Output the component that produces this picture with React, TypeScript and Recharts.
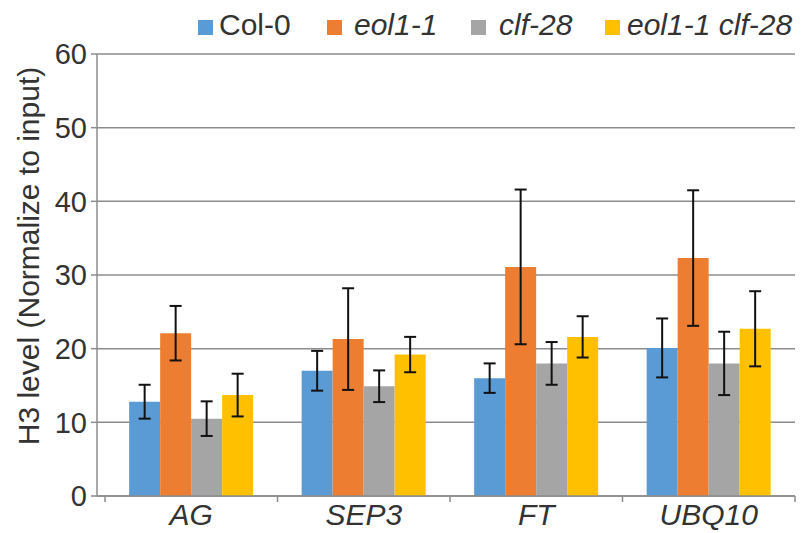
import { Bar, BarChart, CartesianGrid, ErrorBar, XAxis, YAxis } from 'recharts';

const genes = ['AG', 'SEP3', 'FT', 'UBQ10'];

const col0 = [12.8, 17.0, 16.0, 20.1];
const col0Err = [2.3, 2.7, 2.0, 4.0];
const eol1 = [22.1, 21.3, 31.1, 32.3];
const eol1Err = [3.7, 6.9, 10.5, 9.2];
const clf28 = [10.5, 14.9, 18.0, 18.0];
const clf28Err = [2.35, 2.15, 2.9, 4.3];
const eolClf = [13.7, 19.2, 21.6, 22.7];
const eolClfErr = [2.9, 2.4, 2.8, 5.1];

const yTicks = [0, 10, 20, 30, 40, 50, 60];

const series = [
  { key: 'col0', name: 'Col-0', color: '#5B9BD5', italic: false },
  { key: 'eol1', name: 'eol1-1', color: '#ED7D31', italic: true },
  { key: 'clf28', name: 'clf-28', color: '#A5A5A5', italic: true },
  { key: 'eolClf', name: 'eol1-1 clf-28', color: '#FFC000', italic: true },
];

const data = genes.map((gene, i) => ({
  gene,
  col0: col0[i],
  col0Err: col0Err[i],
  eol1: eol1[i],
  eol1Err: eol1Err[i],
  clf28: clf28[i],
  clf28Err: clf28Err[i],
  eolClf: eolClf[i],
  eolClfErr: eolClfErr[i],
}));

const W = 811;
const H = 533;
const LEFT = 97;
const RIGHT = 16;
const PAD_LEFT = 8;
const band = (W - LEFT - RIGHT - PAD_LEFT) / genes.length;
const font = '"Liberation Sans", Arial, sans-serif';
const axisColor = '#8c8c8c';
const textColor = '#333';

function GeneTick(props: any) {
  const { x, y, payload, index } = props;
  const left = x - band / 2;
  return (
    <g>
      <line x1={left} x2={left} y1={y - 8} y2={y - 2} stroke={axisColor} strokeWidth={1.5} />
      {index === genes.length - 1 ? (
        <line x1={left + band} x2={left + band} y1={y - 8} y2={y - 2} stroke={axisColor} strokeWidth={1.5} />
      ) : null}
      <text x={x} y={y + 21} textAnchor="middle" fontSize={30} fontStyle="italic" fill={textColor} fontFamily={font}>
        {payload.value}
      </text>
    </g>
  );
}

function TopLegend() {
  const boxX = [198, 327, 471, 605];
  const textX = [219, 354, 499, 627];
  return (
    <g fontFamily={font} fontSize={30} fill={textColor}>
      {series.map((s, i) => (
        <g key={s.key}>
          <rect x={boxX[i]} y={20} width={15} height={15} fill={s.color} />
          <text x={textX[i]} y={35} fontStyle={s.italic ? 'italic' : 'normal'}>
            {s.name}
          </text>
        </g>
      ))}
    </g>
  );
}

export default function App() {
  return (
    <div style={{ position: 'absolute', left: 0, top: 0, width: W, height: H, background: '#fff' }}>
      <BarChart
        width={W}
        height={H}
        data={data}
        margin={{ top: 54, right: RIGHT, bottom: 0, left: 0 }}
        barCategoryGap="14%"
        barGap={0}
      >
        <CartesianGrid vertical={false} stroke={axisColor} strokeWidth={1.5} />
        <XAxis
          dataKey="gene"
          height={37}
          padding={{ left: PAD_LEFT, right: 0 }}
          stroke={axisColor}
          strokeWidth={1.5}
          tickLine={false}
          tick={<GeneTick />}
          interval={0}
        />
        <YAxis
          width={LEFT}
          domain={[0, 60]}
          ticks={yTicks}
          interval={0}
          stroke={axisColor}
          strokeWidth={1.5}
          tickSize={6}
          tickMargin={4}
          tick={{ fontSize: 29, fill: textColor, fontFamily: font }}
        />
        {series.map((s) => (
          <Bar key={s.key} dataKey={s.key} name={s.name} fill={s.color} isAnimationActive={false}>
            <ErrorBar dataKey={`${s.key}Err`} width={6} stroke="#111" strokeWidth={2} />
          </Bar>
        ))}
        <text
          x={0}
          y={0}
          transform="translate(28,256) rotate(-90)"
          textAnchor="middle"
          dominantBaseline="central"
          fontSize={30}
          fill={textColor}
          fontFamily={font}
        >
          H3 level (Normalize to input)
        </text>
        <TopLegend />
      </BarChart>
    </div>
  );
}
